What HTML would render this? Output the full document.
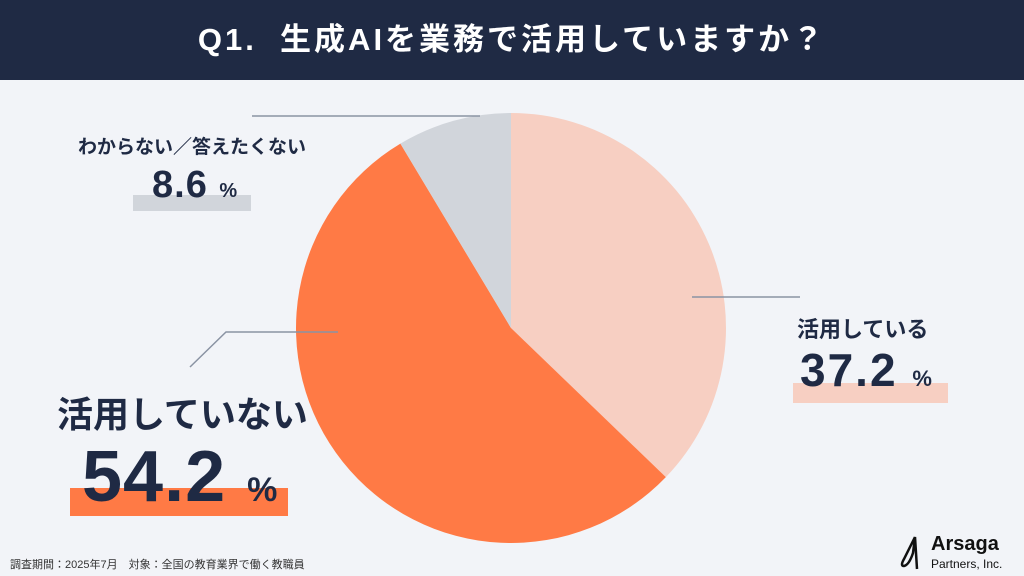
<!DOCTYPE html>
<html lang="ja"><head><meta charset="utf-8">
<style>
html,body{margin:0;padding:0}
body{width:1024px;height:576px;overflow:hidden;background:#f2f4f8;position:relative;font-family:"Liberation Sans","Noto Sans CJK JP",sans-serif;color:#1f2a44}
.hdr{position:absolute;left:0;top:0;width:1024px;height:80px;background:#1f2a44;color:#fff;font-weight:700;font-size:31px;text-align:center;line-height:80px;letter-spacing:3px}
.t{position:absolute;font-weight:700;white-space:nowrap}
.bar{position:absolute}
</style></head><body>
<div class="hdr">Q1.&nbsp; 生成AIを業務で活用していますか？</div>
<svg id="pie" width="1024" height="576" style="position:absolute;left:0;top:0">
</svg>
<div class="bar" style="left:133px;top:195px;width:118px;height:16px;background:#d1d5db"></div>
<div class="t" style="left:78px;top:132px;font-size:19px">わからない／答えたくない</div>
<div class="t" style="left:152px;top:164px;font-size:38px;letter-spacing:1px">8.6 <span style="font-size:20px">%</span></div>

<div class="bar" style="left:793px;top:383px;width:155px;height:20px;background:#f7cfc2"></div>
<div class="t" style="left:797px;top:312px;font-size:22px">活用している</div>
<div class="t" style="left:800px;top:343px;font-size:46px;letter-spacing:2px">37.2 <span style="font-size:22px">%</span></div>

<div class="bar" style="left:70px;top:488px;width:218px;height:28px;background:#ff7a45"></div>
<div class="t" style="left:57px;top:386px;font-size:36px">活用していない</div>
<div class="t" style="left:82px;top:432px;font-size:72px;letter-spacing:1px;line-height:90px">54.2 <span style="font-size:34px">%</span></div>

<div class="t" style="left:10px;top:556px;font-size:11px;font-weight:400;color:#333">調査期間：2025年7月　対象：全国の教育業界で働く教職員</div>
<div style="position:absolute;left:895px;top:533px;width:125px;height:40px">
<svg width="30" height="40" style="position:absolute;left:0;top:0"><path d="M20 4 L9 26 Q5 33 9 33 Q14 32 18 20 L20 4 L22 36" fill="none" stroke="#111" stroke-width="2.5"/></svg>
<div class="t" style="left:36px;top:0;font-size:20px;color:#111">Arsaga</div>
<div class="t" style="left:36px;top:24px;font-size:12px;color:#111;font-weight:400">Partners, Inc.</div>
</div>
<script>
const categories = ["活用している","活用していない","わからない／答えたくない"];
const values = [37.2, 54.2, 8.6];
const colors = ["#f7cfc2","#ff7a45","#d1d5db"];
const cx=511, cy=328, r=215;
const svg=document.getElementById('pie');
const NS='http://www.w3.org/2000/svg';
function ang(v,total){return v/total*2*Math.PI;}
function pt(a){return [cx+r*Math.sin(a), cy-r*Math.cos(a)];}
const total=values.reduce((a,b)=>a+b,0);
let acc=0;
values.forEach((v,i)=>{
  const a0=ang(acc,total), a1=ang(acc+v,total); acc+=v;
  const p0=pt(a0), p1=pt(a1);
  const large=(a1-a0)>Math.PI?1:0;
  const p=document.createElementNS(NS,'path');
  p.setAttribute('d',`M${cx},${cy} L${p0[0]},${p0[1]} A${r},${r} 0 ${large} 1 ${p1[0]},${p1[1]} Z`);
  p.setAttribute('fill',colors[i]);
  
  
  svg.appendChild(p);
});
const lines=[
  "M252,116 L480,116",
  "M692,297 L800,297",
  "M338,332 L226,332 L190,367"
];
lines.forEach((d,i)=>{
  const l=document.createElementNS(NS,'path');
  l.setAttribute('d',d);
  l.setAttribute('fill','none');
  l.setAttribute('stroke','#8a93a3');
  l.setAttribute('stroke-width','1.5');
  
  
  svg.appendChild(l);
});
</script>
</body></html>
